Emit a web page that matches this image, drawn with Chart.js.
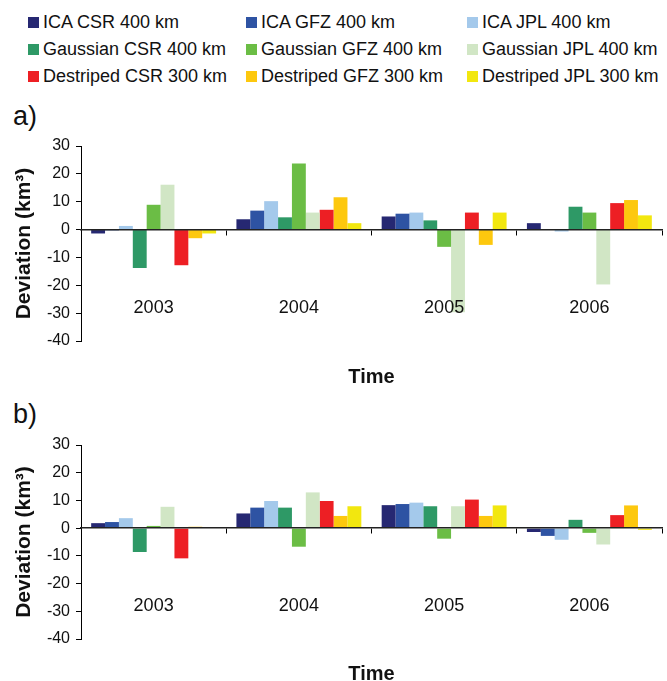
<!DOCTYPE html>
<html>
<head>
<meta charset="utf-8">
<script src="https://cdn.jsdelivr.net/npm/chart.js@4.4.0/dist/chart.umd.min.js"></script>
<style>
  body { margin: 0; width: 667px; height: 681px; overflow: hidden; position: relative; background: #fff;
         font-family: "Liberation Sans", Arial, sans-serif; color: #111; }
  #legend { position: absolute; left: 28px; top: 13px; display: grid;
            grid-template-columns: 218px 221px auto; row-gap: 8px; }
  .item { display: flex; align-items: center; font-size: 18px; line-height: 19px; white-space: nowrap; }
  .box { width: 11px; height: 11px; margin-right: 4px; flex: none; }
  .panel { position: absolute; left: 13px; font-size: 27px; line-height: 27px; }
  .wrap { position: absolute; left: 0; width: 667px; height: 300px; }
</style>
</head>
<body>
<div id="legend"></div>
<div class="panel" style="top:103px">a)</div>
<div class="panel" style="top:401px">b)</div>
<div class="wrap" style="top:90px"><canvas id="chartA" width="667" height="300"></canvas></div>
<div class="wrap" style="top:390px"><canvas id="chartB" width="667" height="300"></canvas></div>
<script>
// data
const years = ['2003', '2004', '2005', '2006'];
const seriesNames = [
  'ICA CSR 400 km', 'ICA GFZ 400 km', 'ICA JPL 400 km',
  'Gaussian CSR 400 km', 'Gaussian GFZ 400 km', 'Gaussian JPL 400 km',
  'Destriped CSR 300 km', 'Destriped GFZ 300 km', 'Destriped JPL 300 km'
];
const seriesColors = [
  '#262872', '#2e53a3', '#a4c9eb',
  '#2e9966', '#6bbd45', '#d1e6c5',
  '#ed1f24', '#fdc80e', '#f2e70f'
];
const yMin = -40, yMax = 30, yStep = 10;

// panel a)
const icaCsrA = [-1.4, 3.7, 4.7, 2.3];
const icaGfzA = [-0.3, 6.8, 5.7, 0];
const icaJplA = [1.3, 10.2, 6.1, -0.7];
const gaussCsrA = [-13.8, 4.4, 3.3, 8.2];
const gaussGfzA = [8.9, 23.7, -6.2, 6.1];
const gaussJplA = [16.1, 6.1, -29.7, -19.7];
const destCsrA = [-12.8, 7.1, 6.1, 9.5];
const destGfzA = [-3.1, 11.6, -5.5, 10.6];
const destJplA = [-1.4, 2.3, 6.1, 5.1];

// panel b)
const icaCsrB = [1.8, 5.3, 8.3, -1.4];
const icaGfzB = [2.2, 7.4, 8.7, -2.8];
const icaJplB = [3.6, 9.8, 9.2, -4.2];
const gaussCsrB = [-8.6, 7.4, 7.9, 3.0];
const gaussGfzB = [0.8, -6.7, -3.8, -1.7];
const gaussJplB = [7.7, 12.9, 7.9, -5.9];
const destCsrB = [-10.9, 9.8, 10.3, 4.7];
const destGfzB = [0.5, 4.4, 4.4, 8.2];
const destJplB = [0, 7.9, 8.2, -0.6];

Chart.defaults.font.family = '"Liberation Sans", Arial, sans-serif';
Chart.defaults.color = '#111';

// legend (html, 3 columns)
const legend = document.getElementById('legend');
seriesNames.forEach((name, i) => {
  const el = document.createElement('div');
  el.className = 'item';
  el.innerHTML = '<span class="box" style="background:' + seriesColors[i] + '"></span>' + name;
  legend.appendChild(el);
});

function makeChart(id, series, pad) {
  const ctx = document.getElementById(id).getContext('2d');
  return new Chart(ctx, {
    type: 'bar',
    data: {
      labels: years,
      datasets: series.map((vals, i) => ({
        label: seriesNames[i],
        data: vals,
        backgroundColor: seriesColors[i],
        borderWidth: 0,
        xAxisID: 'x',
        yAxisID: 'y',
        categoryPercentage: 0.86,
        barPercentage: 1.0
      }))
    },
    options: {
      responsive: false,
      animation: false,
      devicePixelRatio: 1,
      layout: { padding: pad.layout },
      plugins: { legend: { display: false }, tooltip: { enabled: false } },
      scales: {
        // axis line through zero with tick marks between years
        x: {
          type: 'category',
          position: { y: 0 },
          offset: true,
          grid: { offset: true, drawOnChartArea: false, drawTicks: true, tickLength: 5, color: '#000', lineWidth: 1, z: 1 },
          border: { color: '#222', width: 1.5, z: 1 },
          ticks: { display: false }
        },
        // year labels sit inside the plot, drawn over the bars
        xl: {
          type: 'category',
          axis: 'x',
          position: { y: -21.5 },
          offset: true,
          grid: { display: false },
          border: { display: false },
          ticks: { padding: 0, font: { size: 18 }, color: '#111', z: 2 }
        },
        // only carries the "Time" title
        xt: {
          type: 'category',
          axis: 'x',
          position: 'bottom',
          offset: true,
          grid: { display: false },
          border: { display: false },
          ticks: { display: false },
          title: { display: true, text: 'Time', font: { size: 20, weight: 'bold' }, color: '#111',
                   padding: { top: pad.titleTop, bottom: 0 } }
        },
        y: {
          min: yMin,
          max: yMax,
          ticks: { stepSize: yStep, padding: 6, font: { size: 16 }, color: '#111' },
          grid: { drawOnChartArea: false, drawTicks: true, tickLength: 5, color: '#000' },
          border: { color: '#000', width: 1 },
          title: { display: true, text: 'Deviation (km³)', font: { size: 21, weight: 'bold' }, color: '#111',
                   padding: { top: 12, bottom: 0 } },
          afterFit: (scale) => { scale.width = 81; }
        }
      }
    }
  });
}

makeChart('chartA',
  [icaCsrA, icaGfzA, icaJplA, gaussCsrA, gaussGfzA, gaussJplA, destCsrA, destGfzA, destJplA],
  { layout: { left: 0, right: 5, top: 56, bottom: 1 }, titleTop: 16 });

makeChart('chartB',
  [icaCsrB, icaGfzB, icaJplB, gaussCsrB, gaussGfzB, gaussJplB, destCsrB, destGfzB, destJplB],
  { layout: { left: 0, right: 5, top: 55, bottom: 4 }, titleTop: 15 });
</script>
</body>
</html>
